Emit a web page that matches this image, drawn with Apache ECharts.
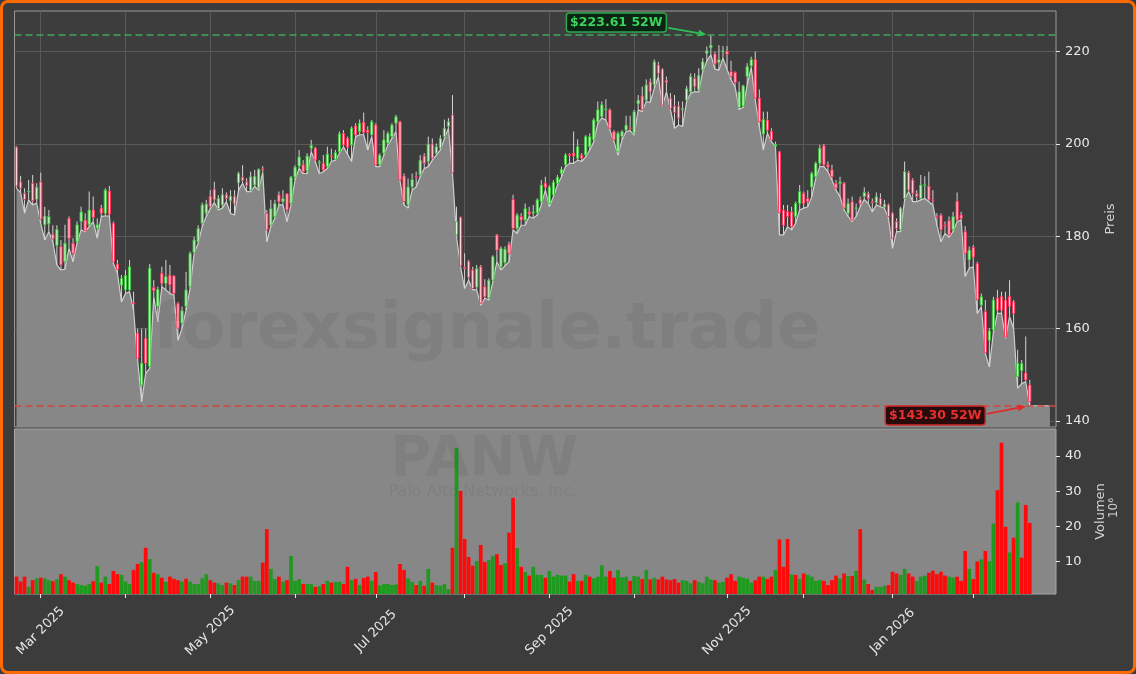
<!DOCTYPE html>
<html>
<head>
<meta charset="utf-8">
<script src="https://cdn.jsdelivr.net/npm/echarts@6/dist/echarts.min.js"></script>
<style>
  html, body { margin: 0; padding: 0; background: #3c3c3c; }
  #chart { position: absolute; left: 0; top: 0; width: 1136px; height: 674px; }
  #frame { position: absolute; left: 0; top: 0; width: 1136px; height: 674px; box-sizing: border-box;
           border: 3px solid #ff6a00; border-radius: 8px; pointer-events: none; }
</style>
</head>
<body>
<div id="chart"></div>
<div id="frame"></div>
<script>
// PANW daily, 52 weeks (trading days from 2025-02-21)
const startDate = '2025-02-21';
const holidays = ['2025-04-18', '2025-05-26', '2025-06-19', '2025-07-04', '2025-09-01',
  '2025-11-27', '2025-12-25', '2026-01-01', '2026-01-19', '2026-02-16'];
const monthNames = ['Jan', 'Feb', 'Mar', 'Apr', 'May', 'Jun', 'Jul', 'Aug', 'Sep', 'Oct', 'Nov', 'Dec'];
const priceTicks = [140, 160, 180, 200, 220];
const volumeTicks = [10, 20, 30, 40];

const opens = [
  199.3,191.8,189.3,189.7,191.5,188.0,191.8,182.5,182.7,180.5,
  178.0,177.8,174.5,183.9,178.5,178.8,183.2,183.5,182.5,185.7,
  181.8,186.1,185.0,189.8,182.8,174.0,169.4,168.4,168.4,165.6,
  159.0,147.8,157.9,151.8,168.9,164.8,172.0,169.8,171.6,171.4,
  165.5,161.2,164.8,169.1,176.5,178.8,182.8,185.0,188.7,190.2,
  186.0,186.8,189.0,187.7,188.7,191.6,192.8,191.8,190.0,191.1,
  190.4,194.6,185.0,182.4,184.2,189.0,187.5,189.2,187.1,192.8,
  195.2,195.5,194.2,199.1,199.1,196.0,195.8,195.1,197.4,196.7,
  198.3,202.3,201.2,199.8,203.9,202.7,204.7,203.0,202.0,204.1,
  195.5,198.0,200.2,201.6,204.5,204.8,193.1,186.8,190.7,193.0,
  193.3,197.4,196.2,200.0,198.0,199.1,201.6,203.8,206.3,180.3,
  184.1,173.3,174.6,172.7,169.0,173.4,169.1,166.6,170.5,180.3,
  173.4,174.3,178.3,188.0,181.7,184.3,183.5,185.3,185.0,185.1,
  187.5,191.5,187.1,189.0,191.5,193.6,195.5,197.7,198.0,196.9,
  197.6,197.6,199.4,200.9,204.8,205.9,207.4,207.4,202.7,198.3,
  201.6,203.0,203.5,202.3,208.7,210.4,209.5,213.5,212.8,217.1,
  216.2,213.8,209.9,208.2,208.2,207.4,209.5,211.3,214.2,211.7,
  216.0,219.6,220.8,219.5,217.6,220.0,220.1,215.7,215.5,207.9,
  208.2,214.6,216.9,218.3,209.9,202.2,205.2,202.7,199.5,198.3,
  185.7,185.3,185.3,184.3,187.1,189.3,188.2,190.7,192.9,195.8,
  199.6,195.5,194.4,191.5,191.4,191.5,185.0,187.5,186.1,188.0,
  188.6,189.2,187.5,187.3,188.2,186.3,186.8,185.0,183.2,181.4,
  188.2,193.8,192.2,189.3,188.2,191.1,190.9,187.9,184.3,184.6,
  182.5,183.4,181.4,187.6,184.6,181.0,174.9,177.6,174.1,165.1,
  163.7,157.5,159.7,166.6,167.0,166.2,167.0,165.8,149.6,150.9,
  150.4,147.8
];
const closes = [
  190.9,190.4,188.0,189.8,187.7,190.6,183.7,184.4,184.3,179.4,
  181.5,173.8,178.5,179.5,176.3,182.5,185.3,181.2,185.7,184.1,
  182.5,185.0,190.0,184.8,174.5,172.8,170.9,171.5,173.4,165.4,
  153.6,152.5,152.5,173.1,168.2,168.5,169.8,171.3,169.5,167.6,
  160.1,163.9,168.4,176.3,179.2,181.7,186.8,187.0,186.4,187.9,
  188.2,189.0,188.2,188.7,187.0,193.6,192.1,191.0,192.9,193.0,
  194.5,194.4,181.4,186.0,187.1,187.5,188.2,185.7,192.8,195.0,
  197.2,194.0,197.4,199.7,196.5,196.1,194.4,197.8,197.2,198.1,
  202.2,199.8,199.3,203.4,202.0,204.5,202.5,202.5,204.8,195.5,
  197.6,200.9,202.3,204.1,205.9,192.2,187.5,190.7,192.3,192.9,
  196.5,195.8,200.0,196.9,199.4,201.2,203.4,204.8,193.8,183.2,
  173.6,173.0,171.1,168.7,173.0,165.5,166.9,170.5,175.6,177.0,
  177.4,177.2,176.3,181.7,184.6,183.5,186.0,184.8,185.3,187.9,
  191.1,190.6,190.7,191.7,192.8,194.5,197.6,197.5,197.4,199.4,
  196.9,201.6,201.6,205.2,207.4,208.5,207.6,203.4,200.9,202.3,
  202.7,204.1,203.4,207.0,209.5,207.4,212.8,211.3,217.8,215.3,
  208.4,213.3,207.7,206.8,205.6,207.7,212.0,214.6,212.4,214.9,
  217.8,220.2,221.4,217.3,218.3,220.2,219.4,214.6,213.3,211.3,
  212.6,216.8,218.3,209.9,204.8,205.3,203.0,200.9,199.9,185.1,
  182.4,184.3,182.1,187.1,189.7,187.1,187.5,193.6,195.8,199.1,
  195.5,195.0,192.9,190.4,191.8,186.1,187.1,183.5,186.2,187.0,
  189.5,188.2,187.4,188.6,186.8,187.0,184.3,179.6,181.7,186.1,
  194.0,190.0,189.3,188.6,191.1,191.2,187.9,187.8,184.2,181.4,
  182.4,180.3,184.3,183.5,183.9,176.3,177.0,175.5,166.3,166.9,
  154.8,159.5,166.2,164.0,164.0,158.2,164.8,163.3,152.5,152.4,
  148.9,144.2
];
const lows = [
  190.4,189.5,185.0,187.9,186.8,187.2,182.8,179.2,181.0,178.8,
  173.8,172.7,172.9,177.4,174.5,178.5,181.4,181.0,182.1,183.2,
  179.6,184.3,184.4,184.4,174.1,172.0,165.8,167.6,168.0,164.0,
  153.2,144.2,150.3,151.4,166.9,161.5,169.1,168.4,167.6,167.3,
  157.5,160.1,164.0,168.7,176.3,178.5,182.1,184.3,186.0,187.3,
  185.7,186.1,187.5,185.0,184.6,190.0,191.5,189.7,189.7,190.8,
  190.0,193.8,178.8,182.1,183.9,186.8,186.8,183.2,186.8,192.2,
  194.7,193.6,193.6,198.3,196.2,193.6,194.0,194.7,196.2,196.5,
  198.0,199.4,197.8,196.2,201.6,202.0,202.0,198.7,201.6,195.1,
  195.1,197.6,199.8,201.2,202.7,192.0,186.8,186.1,190.0,190.7,
  192.9,194.7,195.1,196.5,197.6,198.7,201.2,203.4,193.6,179.9,
  173.4,168.7,170.5,168.4,168.4,165.1,166.6,166.2,170.2,174.5,
  172.7,173.6,174.5,181.4,180.6,182.4,182.4,184.3,183.9,184.6,
  186.8,190.0,186.4,188.6,191.1,192.9,195.1,195.8,195.8,196.5,
  196.2,197.2,198.7,200.5,204.5,205.6,205.2,203.0,200.5,197.6,
  200.9,202.7,202.9,201.9,207.4,207.0,209.2,209.0,212.1,214.6,
  208.2,211.3,207.4,203.4,204.1,203.8,209.2,211.0,211.3,211.3,
  215.7,218.0,219.3,216.2,216.0,218.6,216.2,213.9,212.4,207.5,
  207.9,212.8,216.6,209.5,203.8,198.7,202.3,200.5,199.4,180.3,
  180.3,182.1,181.4,182.8,185.7,186.1,186.4,188.6,192.6,195.1,
  195.1,194.0,192.2,190.0,188.6,185.7,184.3,183.2,184.3,186.4,
  188.0,187.1,185.3,186.8,186.4,186.1,183.9,177.4,181.0,181.0,
  187.9,189.7,187.5,187.5,187.9,188.2,187.5,186.8,182.4,178.8,
  180.6,179.8,181.0,183.2,183.5,171.3,173.1,173.4,163.3,164.7,
  154.6,151.7,159.3,163.3,163.3,157.9,162.6,160.1,147.1,148.1,
  148.5,143.3
];
const highs = [
  199.5,193.1,190.4,192.2,193.3,191.5,193.8,186.4,185.7,182.4,
  182.4,179.2,182.5,184.3,179.6,183.2,186.4,185.0,189.7,188.6,
  183.9,186.8,190.4,190.9,183.2,174.9,171.6,172.7,174.9,168.0,
  160.0,160.0,160.0,174.0,170.5,169.1,173.4,174.9,173.8,171.6,
  165.8,164.8,172.3,176.7,179.9,182.4,187.3,187.9,190.0,191.8,
  188.9,190.4,189.5,190.0,190.0,194.0,195.4,192.6,194.0,194.4,
  194.7,195.2,185.7,187.9,187.9,189.7,190.0,189.3,193.1,195.4,
  198.7,196.5,198.0,200.9,199.4,196.5,197.6,199.4,199.0,198.7,
  202.7,203.0,201.6,203.8,204.5,205.3,206.8,203.8,205.2,204.5,
  198.0,203.0,202.7,204.5,206.3,205.0,193.6,192.5,193.6,194.0,
  197.6,198.0,201.6,201.2,200.1,201.9,205.3,205.6,210.6,186.4,
  184.3,176.3,174.9,173.4,173.8,173.8,170.7,170.9,175.9,180.5,
  177.8,177.8,178.8,189.0,185.0,185.0,187.1,186.4,186.8,188.2,
  192.2,192.9,191.1,192.2,193.3,195.1,198.0,198.0,202.7,201.0,
  198.0,201.9,202.3,205.6,209.2,209.2,209.7,207.7,203.0,202.7,
  203.0,206.1,206.1,207.4,210.6,212.4,214.0,214.2,218.3,217.8,
  216.4,214.6,211.0,210.6,209.2,209.2,212.6,215.3,215.3,216.4,
  218.6,221.1,223.61,220.0,221.4,221.2,221.2,218.0,215.7,213.5,
  212.8,217.5,218.9,220.0,211.8,207.0,207.0,203.4,200.5,198.5,
  186.8,186.8,186.4,187.5,191.1,189.7,190.0,194.0,196.2,199.8,
  200.0,196.2,195.5,192.2,192.9,191.8,188.2,188.6,187.1,188.6,
  190.6,189.7,188.2,189.5,189.3,187.9,187.1,185.3,183.9,186.4,
  196.2,194.2,192.6,190.0,193.3,193.0,194.0,190.0,185.0,185.0,
  183.2,184.3,185.3,189.5,185.3,182.2,177.8,178.1,174.5,167.6,
  166.2,160.1,166.9,168.4,168.0,168.0,170.5,166.2,155.4,153.2,
  158.3,148.9
];
// volume in millions
const volumes = [
  5.7,4.3,5.7,2.8,4.7,5.2,5.4,5.2,4.7,4.4,
  4.9,6.4,5.7,4.7,4.0,3.6,3.3,3.1,3.6,4.4,
  8.7,4.0,5.7,3.6,7.3,6.4,6.2,4.3,3.6,7.6,
  9.3,9.8,13.9,10.7,6.8,6.4,5.4,4.2,5.7,5.1,
  4.7,4.3,5.1,4.3,3.6,3.6,5.2,6.4,4.7,4.0,
  3.8,3.3,4.0,3.8,3.3,4.7,5.7,5.7,5.7,4.5,
  4.5,9.7,19.2,7.9,5.0,5.7,4.3,4.7,11.6,4.5,
  5.0,3.6,3.6,3.6,2.8,3.0,3.6,4.5,4.0,4.2,
  4.2,3.6,8.5,4.7,5.1,3.3,5.3,5.7,4.5,7.0,
  3.2,3.6,3.6,3.3,3.5,9.3,7.6,5.2,4.2,3.3,
  4.5,3.1,7.9,4.0,3.3,3.1,3.6,2.2,13.9,42.3,
  30.1,16.4,11.3,8.8,10.1,14.7,9.9,10.4,11.6,12.1,
  9.0,9.5,18.2,28.1,13.8,8.5,7.0,6.0,8.5,6.2,
  6.2,5.4,7.3,5.7,6.2,6.0,6.0,4.3,6.4,4.5,
  4.5,6.2,5.7,5.2,5.7,8.9,5.7,7.3,5.4,7.6,
  5.5,5.7,4.5,5.9,5.7,5.0,7.6,4.9,5.4,4.9,
  5.7,4.9,4.7,5.0,4.0,4.7,4.5,3.8,4.7,4.2,
  3.8,5.7,4.9,4.7,4.0,4.2,5.4,6.4,4.5,5.7,
  5.4,5.1,4.0,4.7,5.7,5.7,5.0,5.7,7.6,16.3,
  8.5,16.4,6.3,6.2,5.0,6.6,6.2,5.7,4.5,4.7,
  4.5,3.3,4.7,6.0,5.2,6.6,5.9,5.9,7.3,19.2,
  4.9,3.6,1.9,2.8,2.8,3.1,3.3,7.1,6.6,6.2,
  7.9,6.6,5.7,4.5,5.7,6.0,6.8,7.4,6.4,7.1,
  6.0,5.7,5.4,5.7,4.5,13.0,7.9,5.0,10.0,10.6,
  13.0,10.1,20.8,30.3,43.8,19.9,12.6,16.8,26.8,11.1,
  26.1,21.0
];
// g = up day, r = down day (volume colours)
const volumeDir = (
  'rrrgrgrggr' + 'grgrrggggr' + 'grgrrrgggr' + 'rgrgrgrgrr' + 'rgrgggggrr' +
  'ggrgrgrrgg' + 'grrggrgrgg' + 'grggrgrgrg' + 'grrgrgrrgr' + 'gggggrrggr' +
  'grgrggggrg' + 'rrrrgrrggr' + 'rgrrgrgrgg' + 'grgggggrrg' + 'rgrggggrrg' +
  'ggrggrgrgr' + 'rrrrrgggrg' + 'gggrggrrrg' + 'gggrrgrrgr' + 'rrgrgrgggg' +
  'rrrrgrgrgr' + 'grrgggrrrg' + 'grrgggrrrr' + 'rggrrrgrrg' + 'rggrrrgrgr' + 'rr'
).split('');

const n = opens.length;
const padBars = 6;
const font = 'DejaVu Sans';

function tradingDays(start, count) {
  const out = [];
  const d = new Date(start + 'T00:00:00Z');
  while (out.length < count) {
    const wd = d.getUTCDay();
    const iso = d.toISOString().slice(0, 10);
    if (wd !== 0 && wd !== 6 && holidays.indexOf(iso) < 0) out.push(iso);
    d.setUTCDate(d.getUTCDate() + 1);
  }
  return out;
}
const dates = tradingDays(startDate, n + padBars);
const isMonthStart = i => i > 0 && i < n && dates[i].slice(5, 7) !== dates[i - 1].slice(5, 7);
const isLabelMonth = i => isMonthStart(i) && (+dates[i].slice(5, 7)) % 2 === 1;

const candleData = opens.map((o, i) => [i, o, closes[i], lows[i], highs[i]]);
// the low-line area runs on a few bars past the last candle
const areaData = lows.concat(new Array(padBars - 1).fill(lows[n - 1]));

const hiVal = Math.max(...highs), hiIdx = highs.indexOf(hiVal);
const loVal = Math.min(...lows), loIdx = lows.lastIndexOf(loVal);

const chart = echarts.init(document.getElementById('chart'));

function renderCandle(params, api) {
  const i = api.value(0);
  const o = api.value(1), c = api.value(2);
  const pO = api.coord([i, o]), pC = api.coord([i, c]);
  const pL = api.coord([i, api.value(3)]), pH = api.coord([i, api.value(4)]);
  const up = c >= o;
  const x = pO[0];
  const top = Math.min(pO[1], pC[1]);
  const h = Math.max(Math.abs(pO[1] - pC[1]), 1);
  return {
    type: 'group',
    children: [
      { type: 'line', shape: { x1: x, y1: pH[1], x2: x, y2: pL[1] },
        style: { stroke: '#d4d4d4', lineWidth: 1 } },
      { type: 'rect', shape: { x: x - 1.1, y: top, width: 2.2, height: h },
        style: { fill: up ? '#dcf3dc' : '#ffd3dc', stroke: up ? '#3cc13c' : '#ff3358', lineWidth: 1 } }
    ]
  };
}

const watermarks = [
  { type: 'text', id: 'wm1', z: 10, x: 487, y: 331, silent: true,
    style: { text: 'forexsignale.trade', font: 'bold 64px "DejaVu Sans"', fill: 'rgba(0,0,0,0.06)',
             align: 'center', verticalAlign: 'middle' } },
  { type: 'text', id: 'wm2', z: 10, x: 484, y: 460, silent: true,
    style: { text: 'PANW', font: 'bold 56px "DejaVu Sans"', fill: 'rgba(0,0,0,0.055)',
             align: 'center', verticalAlign: 'middle' } },
  { type: 'text', id: 'wm3', z: 10, x: 483, y: 492, silent: true,
    style: { text: 'Palo Alto Networks, Inc.', font: '16px "DejaVu Sans"', fill: 'rgba(0,0,0,0.06)',
             align: 'center', verticalAlign: 'middle' } },
  { type: 'text', id: 'exp', z: 10, x: 1114, y: 508, rotation: Math.PI / 2, silent: true,
    style: { text: '10⁶', font: '12px "DejaVu Sans"', fill: '#d0d0d0',
             align: 'center', verticalAlign: 'middle' } }
];

chart.setOption({
  animation: false,
  backgroundColor: '#3c3c3c',
  textStyle: { fontFamily: font },
  grid: [
    { left: 14.5, right: 80, top: 11, height: 416, show: true,
      backgroundColor: '#3d3d3d', borderColor: '#9a9a9a', borderWidth: 1 },
    { left: 14.5, right: 80, top: 429, height: 165, show: true,
      backgroundColor: '#878787', borderColor: '#a6a6a6', borderWidth: 1 }
  ],
  xAxis: [
    { type: 'category', gridIndex: 0, data: dates, boundaryGap: true,
      axisLine: { show: false }, axisTick: { show: false }, axisLabel: { show: false },
      splitLine: { show: true, alignWithLabel: true, interval: i => isMonthStart(i),
                   lineStyle: { color: '#5a5a5a', width: 1 } } },
    { type: 'category', gridIndex: 1, data: dates, boundaryGap: true,
      axisLine: { show: false },
      axisTick: { show: true, alignWithLabel: true, length: 4, interval: i => isMonthStart(i),
                  lineStyle: { color: '#e6e6e6' } },
      axisLabel: { interval: i => isLabelMonth(i), rotate: 45, align: 'center', verticalAlign: 'middle',
                   margin: 37, color: '#e6e6e6', fontSize: 13, fontFamily: font,
                   formatter: v => monthNames[+v.slice(5, 7) - 1] + ' ' + v.slice(0, 4) },
      splitLine: { show: false } }
  ],
  yAxis: [
    { type: 'value', gridIndex: 0, position: 'right', min: 138.7, max: 228.8, scale: true,
      name: 'Preis', nameLocation: 'middle', nameGap: 48, nameRotate: 90,
      nameTextStyle: { color: '#d2d2d2', fontSize: 13, fontFamily: font },
      axisLine: { show: false },
      axisTick: { show: true, length: 4, customValues: priceTicks, lineStyle: { color: '#e6e6e6' } },
      axisLabel: { customValues: priceTicks, color: '#e8e8e8', fontSize: 13, margin: 9, fontFamily: font },
      splitLine: { show: true, lineStyle: { color: '#5a5a5a', width: 1 } } },
    { type: 'value', gridIndex: 1, position: 'right', min: 0.76, max: 47.7, scale: true,
      name: 'Volumen', nameLocation: 'middle', nameGap: 38, nameRotate: 90,
      nameTextStyle: { color: '#d2d2d2', fontSize: 13, fontFamily: font },
      axisLine: { show: false },
      axisTick: { show: true, length: 4, customValues: volumeTicks, lineStyle: { color: '#e6e6e6' } },
      axisLabel: { customValues: volumeTicks, color: '#e8e8e8', fontSize: 13, margin: 9, fontFamily: font },
      splitLine: { show: false } }
  ],
  series: [
    { name: 'Tief', type: 'line', xAxisIndex: 0, yAxisIndex: 0, data: areaData, z: 2,
      symbol: 'none', lineStyle: { color: '#cfcfcf', width: 1.2 },
      areaStyle: { color: '#878787', opacity: 1 },
      markLine: {
        silent: true, symbol: ['none', 'none'], label: { show: false },
        lineStyle: { type: [7, 4], width: 1.5 },
        data: [
          { yAxis: hiVal, lineStyle: { color: '#3ea85e', type: [7, 4], width: 1.5 } },
          { yAxis: loVal, lineStyle: { color: '#d9443f', type: [7, 4], width: 1.5 } }
        ]
      } },
    { name: 'PANW', type: 'custom', xAxisIndex: 0, yAxisIndex: 0, z: 3,
      data: candleData, encode: { x: 0, y: [1, 2, 3, 4] }, renderItem: renderCandle },
    { name: 'Volumen', type: 'bar', xAxisIndex: 1, yAxisIndex: 1, barWidth: '92%',
      data: volumes.map((v, i) => ({ value: v,
        itemStyle: { color: volumeDir[i] === 'g' ? '#1f9a1f' : '#ff0a0a' } })) }
  ],
  graphic: watermarks
});

function arrow(id, x1, y1, x2, y2, color) {
  const ang = Math.atan2(y2 - y1, x2 - x1), L = 8, W = 3.5;
  const bx = x2 - L * Math.cos(ang), by = y2 - L * Math.sin(ang);
  const nx = -Math.sin(ang) * W, ny = Math.cos(ang) * W;
  return [
    { type: 'line', id: id + 'l', z: 20, silent: true,
      shape: { x1: x1, y1: y1, x2: bx, y2: by }, style: { stroke: color, lineWidth: 1.8 } },
    { type: 'polygon', id: id + 'h', z: 20, silent: true,
      shape: { points: [[x2, y2], [bx + nx, by + ny], [bx - nx, by - ny]] }, style: { fill: color } }
  ];
}
function tag(id, cx, cy, text, fg, bg, border) {
  return [
    { type: 'rect', id: id + 'r', z: 20, silent: true,
      shape: { x: cx - 50, y: cy - 9.5, width: 100, height: 19, r: 3 },
      style: { fill: bg, stroke: border, lineWidth: 1.5 } },
    { type: 'text', id: id + 't', z: 21, x: cx, y: cy, silent: true,
      style: { text: text, fill: fg, font: 'bold 12.5px "DejaVu Sans"', align: 'center', verticalAlign: 'middle' } }
  ];
}

const hp = chart.convertToPixel({ xAxisIndex: 0, yAxisIndex: 0 }, [hiIdx, hiVal]);
const lp = chart.convertToPixel({ xAxisIndex: 0, yAxisIndex: 0 }, [loIdx, loVal]);
const notes = []
  .concat(tag('hi', hp[0] - 94.5, hp[1] - 12.5, '$' + hiVal.toFixed(2) + ' 52W', '#3ad45c', '#0b2413', '#2ea84f'))
  .concat(arrow('hia', hp[0] - 42.5, hp[1] - 7, hp[0] - 4.5, hp[1] - 0.5, '#2fbf55'))
  .concat(tag('lo', lp[0] - 94.5, lp[1] + 9.7, '$' + loVal.toFixed(2) + ' 52W', '#e8302e', '#2a0b0b', '#d12a2a'))
  .concat(arrow('loa', lp[0] - 43, lp[1] + 8, lp[0] - 4, lp[1] + 0.7, '#e02a2a'));

chart.setOption({ graphic: watermarks.concat(notes) });
</script>
</body>
</html>
